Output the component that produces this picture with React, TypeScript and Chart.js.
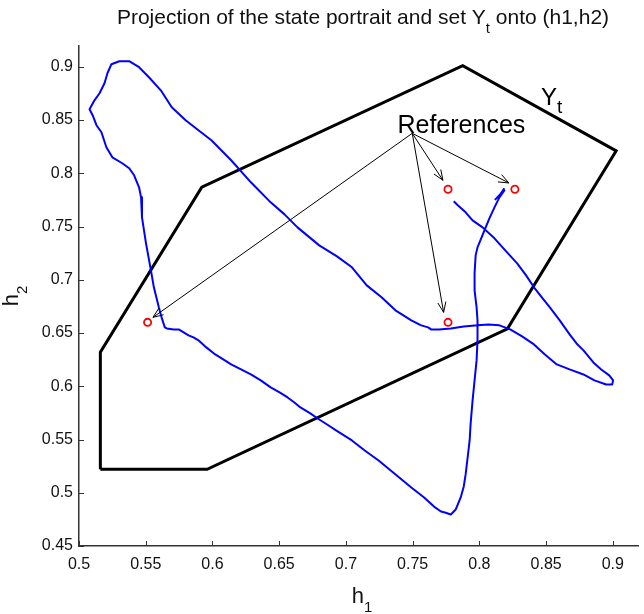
import React, { useEffect, useRef } from 'react';
import { Chart, registerables } from 'chart.js';

Chart.register(...registerables);

const FONT = '"Liberation Sans", Arial, Helvetica, sans-serif';

// Axis tick values
const xTicks = [0.5, 0.55, 0.6, 0.65, 0.7, 0.75, 0.8, 0.85, 0.9];
const yTicks = [0.45, 0.5, 0.55, 0.6, 0.65, 0.7, 0.75, 0.8, 0.85, 0.9];

// Set Y_t projected onto (h1,h2) (closed polygon)
const polyH1 = [0.516, 0.516, 0.592, 0.7875, 0.9025, 0.821, 0.596, 0.516];
const polyH2 = [0.522, 0.632, 0.787, 0.901, 0.821, 0.654, 0.522, 0.522];

// State portrait trajectory
const trajH1 = [
  0.7808, 0.7838, 0.7897, 0.7949, 0.8024, 0.8113, 0.8194, 0.8283, 0.8350, 0.8409,
  0.8468, 0.8528, 0.8602, 0.8676, 0.8728, 0.8780, 0.8854, 0.8913, 0.8973, 0.9002,
  0.8995, 0.8950, 0.8862, 0.8780, 0.8676, 0.8580, 0.8491, 0.8409, 0.8320, 0.8231,
  0.8150, 0.8068, 0.7986, 0.7883, 0.7786, 0.7697, 0.7638, 0.7616,
  0.7564, 0.7490, 0.7371, 0.7267, 0.7156, 0.7045, 0.6933, 0.6800, 0.6637, 0.6540,
  0.6436, 0.6288, 0.6140, 0.5992, 0.5895, 0.5799, 0.5695, 0.5613, 0.5524, 0.5450,
  0.5376, 0.5302, 0.5243, 0.5213, 0.5191, 0.5154, 0.5116, 0.5079, 0.5102, 0.5131,
  0.5168, 0.5205, 0.5250, 0.5324, 0.5376, 0.5413, 0.5450, 0.5465, 0.5472, 0.5502,
  0.5539, 0.5561, 0.5598, 0.5621, 0.5643,
  0.5658, 0.5710, 0.5747, 0.5784, 0.5821, 0.5858, 0.5895, 0.5954, 0.6021, 0.6081,
  0.6140, 0.6214, 0.6288, 0.6362, 0.6436, 0.6503, 0.6563, 0.6614, 0.6659, 0.6733,
  0.6800, 0.6859, 0.6926, 0.7045, 0.7141, 0.7245, 0.7363, 0.7490, 0.7586, 0.7668,
  0.7712, 0.7742, 0.7786, 0.7823, 0.7860, 0.7883, 0.7897, 0.7912, 0.7927, 0.7934,
  0.7949, 0.7964, 0.7979, 0.7986, 0.7986, 0.7979, 0.7964, 0.7964, 0.7972, 0.7986,
  0.8038, 0.8075, 0.8113, 0.8150, 0.8187, 0.8164, 0.8120, 0.8157, 0.8187,
];
const trajH2 = [
  0.7737, 0.7699, 0.7633, 0.7558, 0.7492, 0.7389, 0.7276, 0.7154, 0.7041, 0.6929,
  0.6835, 0.6741, 0.6619, 0.6487, 0.6402, 0.6337, 0.6224, 0.6158, 0.6102, 0.6055,
  0.6017, 0.6017, 0.6055, 0.6111, 0.6158, 0.6205, 0.6299, 0.6393, 0.6468, 0.6534,
  0.6572, 0.6581, 0.6572, 0.6562, 0.6543, 0.6534, 0.6534, 0.6553,
  0.6572, 0.6619, 0.6713, 0.6835, 0.6947, 0.7117, 0.7220, 0.7323, 0.7492, 0.7614,
  0.7727, 0.7915, 0.8122, 0.8310, 0.8404, 0.8498, 0.8620, 0.8779, 0.8902, 0.8996,
  0.9052, 0.9052, 0.9024, 0.8939, 0.8845, 0.8751, 0.8685, 0.8601, 0.8545, 0.8451,
  0.8385, 0.8244, 0.8150, 0.8094, 0.8047, 0.7981, 0.7868, 0.7774, 0.7586, 0.7342,
  0.7088, 0.6929, 0.6741, 0.6637, 0.6553,
  0.6543, 0.6534, 0.6534, 0.6506, 0.6478, 0.6459, 0.6431, 0.6365, 0.6299, 0.6252,
  0.6205, 0.6158, 0.6111, 0.6055, 0.5989, 0.5942, 0.5895, 0.5848, 0.5801, 0.5745,
  0.5688, 0.5641, 0.5585, 0.5491, 0.5397, 0.5303, 0.5181, 0.5050, 0.4956, 0.4862,
  0.4824, 0.4815, 0.4796, 0.4843, 0.4956, 0.5059, 0.5172, 0.5331, 0.5491, 0.5641,
  0.5867, 0.6055, 0.6243, 0.6431, 0.6619, 0.6741, 0.6900, 0.7060, 0.7229, 0.7304,
  0.7464, 0.7577, 0.7680, 0.7774, 0.7840, 0.7812, 0.7755, 0.7802, 0.7859,
];

// Reference points
const refH1 = [0.5514, 0.7765, 0.7765, 0.8266];
const refH2 = [0.66, 0.66, 0.785, 0.785];

// Annotation arrows (common tail, four heads)
const arrowTail = [0.7497, 0.8375];
const arrowHeadH1 = [0.5554, 0.7732, 0.7727, 0.8221];
const arrowHeadH2 = [0.6647, 0.6694, 0.7934, 0.7909];

// Annotation text anchors (data coordinates)
const refLabelAt = [0.7386, 0.8375];
const ytLabelAt = [0.8461, 0.8639];

const X_MIN = 0.5, X_MAX = 0.919, Y_MIN = 0.45, Y_MAX = 0.9195;
const AXIS_COLOR = '#333333';
const TEXT_COLOR = '#111111';

type Part = { t: string; size: number; dy: number };

function drawParts(ctx: CanvasRenderingContext2D, parts: Part[], x: number, y: number, align: 'left' | 'center') {
  ctx.save();
  ctx.textBaseline = 'alphabetic';
  ctx.textAlign = 'left';
  let total = 0;
  const widths = parts.map((p) => {
    ctx.font = `${p.size}px ${FONT}`;
    const w = ctx.measureText(p.t).width;
    total += w;
    return w;
  });
  let cx = align === 'center' ? x - total / 2 : x;
  parts.forEach((p, i) => {
    ctx.font = `${p.size}px ${FONT}`;
    ctx.fillText(p.t, cx, y + p.dy);
    cx += widths[i];
  });
  ctx.restore();
}

const fmt = (v: number) => String(Number(v.toFixed(2)));

const decorPlugin = {
  id: 'decor',
  afterDatasetsDraw(chart: any) {
    const ctx: CanvasRenderingContext2D = chart.ctx;
    const xs = chart.scales.x;
    const ys = chart.scales.y;
    const area = chart.chartArea;

    // arrows
    ctx.save();
    ctx.strokeStyle = '#000';
    ctx.fillStyle = '#000';
    ctx.lineWidth = 1;
    const tx = xs.getPixelForValue(arrowTail[0]);
    const ty = ys.getPixelForValue(arrowTail[1]);
    arrowHeadH1.forEach((hx, i) => {
      const px = xs.getPixelForValue(hx);
      const py = ys.getPixelForValue(arrowHeadH2[i]);
      ctx.beginPath();
      ctx.moveTo(tx, ty);
      ctx.lineTo(px, py);
      ctx.stroke();
      const ang = Math.atan2(py - ty, px - tx);
      const L = 11, a = 0.38;
      ctx.beginPath();
      ctx.moveTo(px - L * Math.cos(ang - a), py - L * Math.sin(ang - a));
      ctx.lineTo(px, py);
      ctx.lineTo(px - L * Math.cos(ang + a), py - L * Math.sin(ang + a));
      ctx.stroke();
    });
    ctx.restore();

    // annotation text
    ctx.save();
    ctx.fillStyle = '#000';
    drawParts(ctx, [{ t: 'References', size: 25, dy: 0 }],
      xs.getPixelForValue(refLabelAt[0]), ys.getPixelForValue(refLabelAt[1]), 'left');
    drawParts(ctx, [{ t: 'Y', size: 24, dy: 0 }, { t: 't', size: 19, dy: 8 }],
      xs.getPixelForValue(ytLabelAt[0]), ys.getPixelForValue(ytLabelAt[1]), 'left');
    ctx.restore();

    // inward tick marks
    ctx.save();
    ctx.strokeStyle = AXIS_COLOR;
    ctx.lineWidth = 1;
    ctx.beginPath();
    xTicks.forEach((v) => {
      const px = Math.round(xs.getPixelForValue(v)) + 0.5;
      ctx.moveTo(px, area.bottom);
      ctx.lineTo(px, area.bottom - 5);
    });
    yTicks.forEach((v) => {
      const py = Math.round(ys.getPixelForValue(v)) + 0.5;
      ctx.moveTo(area.left, py);
      ctx.lineTo(area.left + 5, py);
    });
    ctx.stroke();
    ctx.restore();
  },
  afterDraw(chart: any) {
    const ctx: CanvasRenderingContext2D = chart.ctx;
    const area = chart.chartArea;
    ctx.save();
    ctx.fillStyle = TEXT_COLOR;
    // title
    drawParts(ctx, [
      { t: 'Projection of the state portrait and set Y', size: 21, dy: 0 },
      { t: 't', size: 15, dy: 9 },
      { t: ' onto (h1,h2)', size: 21, dy: 0 },
    ], 363, 24, 'center');
    // x label
    drawParts(ctx, [{ t: 'h', size: 22, dy: 0 }, { t: '1', size: 15, dy: 9 }], 362, 603, 'center');
    // y label (rotated)
    ctx.translate(18, (area.top + area.bottom) / 2);
    ctx.rotate(-Math.PI / 2);
    drawParts(ctx, [{ t: 'h', size: 22, dy: 0 }, { t: '2', size: 15, dy: 9 }], 0, 0, 'center');
    ctx.restore();
  },
};

export default function App() {
  const ref = useRef<HTMLCanvasElement>(null);
  useEffect(() => {
    const poly = polyH1.map((x, i) => ({ x, y: polyH2[i] }));
    const traj = trajH1.map((x, i) => ({ x, y: trajH2[i] }));
    const refs = refH1.map((x, i) => ({ x, y: refH2[i] }));
    const chart = new Chart(ref.current!, {
      type: 'scatter',
      data: {
        datasets: [
          {
            label: 'References',
            data: refs,
            showLine: false,
            pointRadius: 3.6,
            pointBorderWidth: 1.8,
            pointBorderColor: '#ff0000',
            pointBackgroundColor: 'rgba(0,0,0,0)',
            order: 1,
          },
          {
            label: 'Trajectory',
            data: traj,
            showLine: true,
            borderColor: '#0000ff',
            borderWidth: 2,
            pointRadius: 0,
            tension: 0,
            borderJoinStyle: 'round',
            order: 2,
          },
          {
            label: 'Y_t',
            data: poly,
            showLine: true,
            borderColor: '#000000',
            borderWidth: 3,
            pointRadius: 0,
            tension: 0,
            borderJoinStyle: 'miter',
            order: 3,
          },
        ],
      } as any,
      options: {
        animation: false,
        responsive: false,
        devicePixelRatio: 1,
        events: [],
        layout: { padding: { top: 46, left: 0, right: 0, bottom: 0 } },
        plugins: { legend: { display: false }, tooltip: { enabled: false }, title: { display: false } },
        scales: {
          x: {
            type: 'linear',
            min: X_MIN,
            max: X_MAX,
            afterBuildTicks: (s: any) => { s.ticks = xTicks.map((v) => ({ value: v })); },
            afterFit: (s: any) => { s.height = 68; },
            ticks: {
              autoSkip: false,
              maxRotation: 0,
              padding: 9,
              color: TEXT_COLOR,
              font: { family: FONT, size: 16 },
              callback: (v: any) => fmt(Number(v)),
            },
            grid: { display: true, drawOnChartArea: false, drawTicks: false },
            border: { display: true, color: AXIS_COLOR, width: 1.5 },
          },
          y: {
            type: 'linear',
            min: Y_MIN,
            max: Y_MAX,
            afterBuildTicks: (s: any) => { s.ticks = yTicks.map((v) => ({ value: v })); },
            afterFit: (s: any) => { s.width = 79; },
            ticks: {
              autoSkip: false,
              padding: 6,
              color: TEXT_COLOR,
              font: { family: FONT, size: 16 },
              callback: (v: any) => fmt(Number(v)),
            },
            grid: { display: true, drawOnChartArea: false, drawTicks: false },
            border: { display: true, color: AXIS_COLOR, width: 1.5 },
          },
        },
      } as any,
      plugins: [decorPlugin],
    });
    return () => chart.destroy();
  }, []);
  return (
    <div style={{ position: 'absolute', left: 0, top: 0, width: 644, height: 614, background: '#ffffff' }}>
      <canvas ref={ref} width={644} height={614} style={{ display: 'block', width: 644, height: 614 }} />
    </div>
  );
}
